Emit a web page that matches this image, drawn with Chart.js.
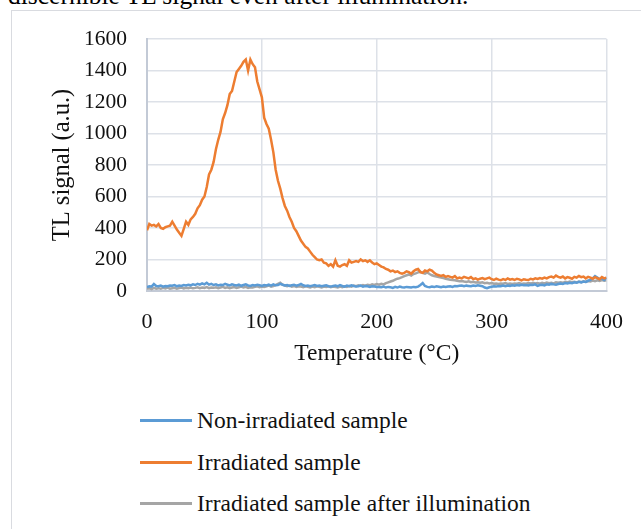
<!DOCTYPE html>
<html>
<head>
<meta charset="utf-8">
<script src="https://cdn.jsdelivr.net/npm/chart.js@4.4.1/dist/chart.umd.min.js"></script>
<style>
  html, body { margin: 0; padding: 0; background: #fff; width: 641px; height: 529px; overflow: hidden; }
  #top { position: absolute; left: 8px; top: -17px; font: 25.5px "Liberation Serif", serif; line-height: 1; color: #000; white-space: nowrap; }
  #box { position: absolute; left: 11px; top: 10px; width: 700px; height: 600px; border: 1px solid #d9dbe0; box-sizing: border-box; }
  #wrap { position: absolute; left: 0; top: 0; width: 641px; height: 390px; }
  #legend { position: absolute; left: 140px; top: 405px; font: 23.5px "Liberation Serif", serif; color: #111; }
  .item { position: absolute; left: 0; width: 500px; height: 30px; white-space: nowrap; }
  .swatch { position: absolute; left: 0; width: 52px; height: 2.5px; }
  .lab { position: absolute; left: 57px; top: 0; line-height: 30px; }
</style>
</head>
<body>
<div id="top">discernible TL signal even after illumination.</div>
<div id="box"></div>
<div id="wrap"><canvas id="c" width="641" height="390"></canvas></div>
<div id="legend"></div>
<script>
const temperatures = [0,2,4,6,8,10,12,14,16,18,20,22,24,26,28,30,32,34,36,38,40,42,44,46,48,50,52,54,56,58,60,62,64,66,68,70,72,74,76,78,80,82,84,86,88,90,92,94,96,98,100,102,104,106,108,110,112,114,116,118,120,122,124,126,128,130,132,134,136,138,140,142,144,146,148,150,152,154,156,158,160,162,164,166,168,170,172,174,176,178,180,182,184,186,188,190,192,194,196,198,200,202,204,206,208,210,212,214,216,218,220,222,224,226,228,230,232,234,236,238,240,242,244,246,248,250,252,254,256,258,260,262,264,266,268,270,272,274,276,278,280,282,284,286,288,290,292,294,296,298,300,302,304,306,308,310,312,314,316,318,320,322,324,326,328,330,332,334,336,338,340,342,344,346,348,350,352,354,356,358,360,362,364,366,368,370,372,374,376,378,380,382,384,386,388,390,392,394,396,398,400];

const nonIrradiated = [25,30,28,45,32,30,35,28,32,30,35,33,38,30,35,32,38,35,40,36,42,38,45,40,48,42,52,40,45,38,42,35,40,38,45,40,35,42,38,35,40,33,38,42,35,32,38,35,40,36,32,38,35,40,34,42,36,38,45,40,35,38,32,36,40,34,38,45,36,32,35,30,34,38,32,35,30,33,36,30,28,32,35,30,38,32,28,34,30,36,32,28,30,34,28,32,30,26,30,28,25,26,24,28,22,26,24,20,26,22,28,24,22,26,24,22,26,24,28,38,50,32,26,24,28,25,30,27,24,28,25,28,30,26,32,30,33,35,30,34,32,30,35,32,36,33,30,22,18,24,27,30,28,32,30,34,30,35,32,36,34,38,35,40,36,38,35,40,38,42,32,38,40,36,42,40,45,42,40,44,48,45,50,48,52,50,55,52,58,55,60,58,65,70,80,95,85,75,80,70,85];

const irradiated = [385,425,415,420,410,425,400,395,405,410,415,440,415,390,370,350,395,440,420,455,470,490,525,545,580,600,660,740,770,820,900,960,1010,1090,1130,1180,1250,1270,1330,1390,1410,1430,1455,1470,1400,1470,1440,1420,1330,1280,1230,1100,1060,1030,960,880,770,700,650,590,540,510,470,440,400,380,350,320,300,280,270,250,230,215,200,195,200,180,175,160,170,155,195,160,155,165,170,160,195,180,185,190,185,200,190,195,185,195,180,170,175,165,155,150,140,135,125,130,120,125,115,110,115,125,120,110,125,135,140,120,115,130,125,135,130,115,105,100,95,100,90,95,90,85,95,80,85,80,90,85,80,88,75,80,72,78,82,75,80,85,75,70,78,72,68,75,70,80,72,76,70,78,74,68,75,72,70,78,74,80,76,82,78,85,80,88,92,85,98,90,85,92,80,88,84,78,90,85,95,88,92,80,90,85,78,88,82,75,88,80,85];

const afterIllumination = [15,18,12,20,15,18,14,20,16,22,15,18,20,14,18,22,16,20,18,22,17,20,24,18,22,20,25,18,22,20,24,18,22,26,20,24,18,22,25,20,24,28,22,26,20,24,22,26,30,24,28,25,30,35,28,32,38,45,52,40,35,30,34,28,32,26,30,28,24,30,26,22,28,24,30,26,22,28,25,30,24,28,26,22,28,24,30,26,32,28,34,30,36,32,38,34,40,36,42,38,44,40,46,42,50,55,60,65,72,78,82,88,95,100,105,98,108,112,118,122,115,110,118,108,100,95,92,88,85,82,78,75,72,70,68,65,62,64,60,58,62,56,58,54,56,52,55,50,52,48,50,46,48,44,48,46,50,45,48,44,48,46,50,45,48,46,50,47,52,48,50,46,52,48,54,50,52,48,55,52,56,52,58,55,60,56,58,54,60,56,62,58,64,60,66,62,68,64,70,65,68];

const seriesNames = ["Non-irradiated sample", "Irradiated sample", "Irradiated sample after illumination"];
const seriesColors = ["#5b9bd5", "#ed7d31", "#a5a5a5"];
const yTicks = [0,200,400,600,800,1000,1200,1400,1600];
const xTicks = [0,100,200,300,400];

function pts(vals) { return temperatures.map((t, i) => ({ x: t, y: vals[i] })); }

const serif = "'Liberation Serif', 'Times New Roman', serif";
const datasets = [nonIrradiated, irradiated, afterIllumination].map((v, i) => ({
  label: seriesNames[i],
  data: pts(v),
  borderColor: seriesColors[i],
  backgroundColor: seriesColors[i],
  borderWidth: 2.5,
  pointRadius: 0,
  tension: 0,
  fill: false
}));
datasets[0].order = 2;
datasets[1].order = 1;
datasets[2].order = 3;

const chart = new Chart(document.getElementById('c'), {
  type: 'line',
  data: { datasets },
  options: {
    responsive: false,
    animation: false,
    layout: { padding: { left: 0, right: 34, top: 39, bottom: 0 } },
    plugins: { legend: { display: false }, tooltip: { enabled: false } },
    scales: {
      x: {
        type: 'linear', min: 0, max: 400,
        afterBuildTicks: s => { s.ticks = xTicks.map(v => ({ value: v })); },
        afterFit: s => { s.height = 99; },
        grid: { color: '#dde1e8', lineWidth: 1.5, drawTicks: false },
        border: { color: '#c3cad6', width: 2 },
        ticks: { padding: 18, color: '#111', font: { family: serif, size: 22 }, maxRotation: 0, callback: v => String(v) },
        title: { display: true, text: 'Temperature (°C)', color: '#111', font: { family: serif, size: 23.5 }, padding: { top: 0, bottom: 22 } }
      },
      y: {
        min: 0, max: 1600,
        afterBuildTicks: s => { s.ticks = yTicks.map(v => ({ value: v })); },
        afterFit: s => { s.width = 147; },
        grid: { color: '#dde1e8', lineWidth: 1.5, drawTicks: false },
        border: { color: '#c3cad6', width: 2 },
        ticks: { padding: 20, color: '#111', font: { family: serif, size: 21.5 }, callback: v => String(v) },
        title: { display: true, text: 'TL signal (a.u.)', color: '#111', font: { family: serif, size: 24.5 }, padding: { top: 48, bottom: 0 } }
      }
    }
  }
});

const legend = document.getElementById('legend');
const rowTops = [0, 42, 83];
chart.data.datasets.forEach((ds, i) => {
  const it = document.createElement('div');
  it.className = 'item';
  it.style.top = rowTops[i] + 'px';
  const sw = document.createElement('div');
  sw.className = 'swatch';
  sw.style.background = ds.borderColor;
  sw.style.top = '14px';
  const lab = document.createElement('span');
  lab.className = 'lab';
  lab.textContent = ds.label;
  it.appendChild(sw); it.appendChild(lab);
  legend.appendChild(it);
});
</script>
</body>
</html>
